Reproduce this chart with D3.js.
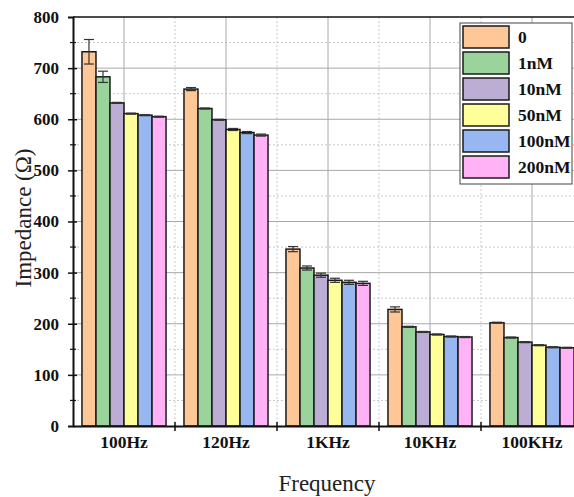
<!DOCTYPE html>
<html>
<head>
<meta charset="utf-8">
<script src="https://cdn.jsdelivr.net/npm/d3@7"></script>
<style>
  html, body { margin: 0; padding: 0; background: #fff; }
  svg { display: block; }
</style>
</head>
<body>
<svg id="chart" width="574" height="497"></svg>
<script>
// Impedance at each frequency for each concentration
const frequencies = ["100Hz", "120Hz", "1KHz", "10KHz", "100KHz"];
const concentrations = ["0", "1nM", "10nM", "50nM", "100nM", "200nM"];
const colors = ["#FDC797", "#9AD49C", "#BCADD5", "#FFFF9A", "#98B6F0", "#FFB2F6"];

// values[concentration][frequency]
const values = [
  [732, 659, 346, 228, 202],
  [683, 621, 309, 194, 173],
  [632, 599, 295, 184, 164],
  [611, 580, 285, 179, 158],
  [608, 574, 281, 175, 154],
  [605, 569, 279, 174, 153]
];
const errors = [
  [24, 3, 5, 5, 1],
  [11, 1, 4, 1, 1],
  [1, 1, 4, 1, 1],
  [1, 2, 4, 1, 1],
  [1, 2, 4, 1, 1],
  [1, 2, 4, 1, 1]
];
const yTicks = [0, 100, 200, 300, 400, 500, 600, 700, 800];

const svg = d3.select("#chart");
const margin = { left: 73, top: 17, bottom: 426 };
const plotRight = 583;
const serif = "'Liberation Serif', 'DejaVu Serif', serif";

const x = d3.scaleBand().domain(frequencies).range([margin.left, plotRight]).paddingInner(0).paddingOuter(0);
const inner = d3.scaleBand().domain(concentrations).range([0, x.bandwidth()]).paddingInner(0).paddingOuter(0.64);
const y = d3.scaleLinear().domain([0, 800]).range([margin.bottom, margin.top]);

const grid = svg.append("g");
// minor horizontal grid (dashed)
grid.selectAll("line.hminor").data(d3.range(50, 800, 100)).join("line")
  .attr("x1", margin.left).attr("x2", plotRight)
  .attr("y1", d => y(d)).attr("y2", d => y(d))
  .attr("stroke", "#c8c8c8").attr("stroke-width", 1).attr("stroke-dasharray", "2,2");
// major horizontal grid
grid.selectAll("line.hmajor").data(yTicks.slice(1, -1)).join("line")
  .attr("x1", margin.left).attr("x2", plotRight)
  .attr("y1", d => y(d)).attr("y2", d => y(d))
  .attr("stroke", "#a8a8a8").attr("stroke-width", 1);
// vertical grid at category centres
grid.selectAll("line.vmajor").data(frequencies).join("line")
  .attr("x1", d => x(d) + x.bandwidth() / 2).attr("x2", d => x(d) + x.bandwidth() / 2)
  .attr("y1", margin.top).attr("y2", margin.bottom)
  .attr("stroke", "#a8a8a8").attr("stroke-width", 1);
// vertical grid at category boundaries (dashed)
grid.selectAll("line.vminor").data(frequencies.slice(1)).join("line")
  .attr("x1", d => x(d)).attr("x2", d => x(d))
  .attr("y1", margin.top).attr("y2", margin.bottom)
  .attr("stroke", "#c8c8c8").attr("stroke-width", 1).attr("stroke-dasharray", "2,2");

// bars
const groups = svg.append("g").selectAll("g").data(concentrations).join("g");
groups.selectAll("rect").data((c, ci) => frequencies.map((f, fi) => ({ f, c, ci, v: values[ci][fi], e: errors[ci][fi] })))
  .join("rect")
  .attr("x", d => x(d.f) + inner(d.c))
  .attr("y", d => y(d.v))
  .attr("width", inner.bandwidth())
  .attr("height", d => y(0) - y(d.v))
  .attr("fill", d => colors[d.ci])
  .attr("stroke", "#1a1a1a").attr("stroke-width", 1.5);

// error bars
const errG = svg.append("g");
concentrations.forEach((c, ci) => {
  frequencies.forEach((f, fi) => {
    const cx = x(f) + inner(c) + inner.bandwidth() / 2;
    const v = values[ci][fi], e = errors[ci][fi];
    const g = errG.append("g").attr("stroke", "#333").attr("stroke-width", 1.2);
    g.append("line").attr("x1", cx).attr("x2", cx).attr("y1", y(v + e)).attr("y2", y(v - e));
    g.append("line").attr("x1", cx - 5).attr("x2", cx + 5).attr("y1", y(v + e)).attr("y2", y(v + e));
    g.append("line").attr("x1", cx - 5).attr("x2", cx + 5).attr("y1", y(v - e)).attr("y2", y(v - e));
  });
});

// frame top
svg.append("line").attr("x1", margin.left).attr("x2", plotRight)
  .attr("y1", margin.top).attr("y2", margin.top).attr("stroke", "#111").attr("stroke-width", 1.5);

// y axis
const yAxis = svg.append("g").attr("transform", `translate(${margin.left},0)`)
  .call(d3.axisLeft(y).tickValues(yTicks).tickSize(5).tickPadding(9));
yAxis.select(".domain").attr("stroke", "#111").attr("stroke-width", 2);
yAxis.selectAll(".tick line").attr("stroke", "#111").attr("stroke-width", 1.5).attr("x2", -5).attr("x1", 4);
yAxis.selectAll(".tick text").attr("font-family", serif).attr("font-weight", "bold")
  .attr("font-size", 17).attr("fill", "#111");
yAxis.selectAll(".tick").filter(d => d === 0 || d === 800).select("line").remove();
// minor y ticks
svg.append("g").selectAll("line").data(d3.range(50, 800, 100)).join("line")
  .attr("x1", margin.left - 3).attr("x2", margin.left + 3)
  .attr("y1", d => y(d)).attr("y2", d => y(d))
  .attr("stroke", "#111").attr("stroke-width", 1.2);

// x axis
const xAxis = svg.append("g").attr("transform", `translate(0,${margin.bottom})`)
  .call(d3.axisBottom(x).tickSize(0).tickPadding(10));
xAxis.select(".domain").attr("stroke", "#111").attr("stroke-width", 2);
xAxis.selectAll(".tick text").attr("font-family", serif).attr("font-weight", "bold")
  .attr("font-size", 17.5).attr("fill", "#111");
svg.append("g").selectAll("line").data(frequencies.slice(1)).join("line")
  .attr("x1", d => x(d)).attr("x2", d => x(d))
  .attr("y1", margin.bottom - 4).attr("y2", margin.bottom + 5)
  .attr("stroke", "#111").attr("stroke-width", 1.5);

// axis titles
svg.append("text").attr("x", 327).attr("y", 491).attr("text-anchor", "middle")
  .attr("font-family", serif).attr("font-size", 23).attr("fill", "#222")
  .text("Frequency");
svg.append("text").attr("transform", "translate(31,218) rotate(-90)").attr("text-anchor", "middle")
  .attr("font-family", serif).attr("font-size", 23).attr("fill", "#222")
  .text("Impedance (Ω)");

// legend
const legend = svg.append("g").attr("transform", "translate(460,23)");
legend.append("rect").attr("x", 0).attr("y", 0).attr("width", 112).attr("height", 161)
  .attr("fill", "#fff").attr("stroke", "#444").attr("stroke-width", 1);
const items = legend.selectAll("g").data(concentrations).join("g")
  .attr("transform", (d, i) => `translate(3,${3 + i * 26})`);
items.append("rect").attr("width", 46).attr("height", 22)
  .attr("fill", (d, i) => colors[i]).attr("stroke", "#1a1a1a").attr("stroke-width", 1.5);
items.append("text").attr("x", 55).attr("y", 17)
  .attr("font-family", serif).attr("font-weight", "bold").attr("font-size", 17.5)
  .attr("fill", "#111").text(d => d);
</script>
</body>
</html>
